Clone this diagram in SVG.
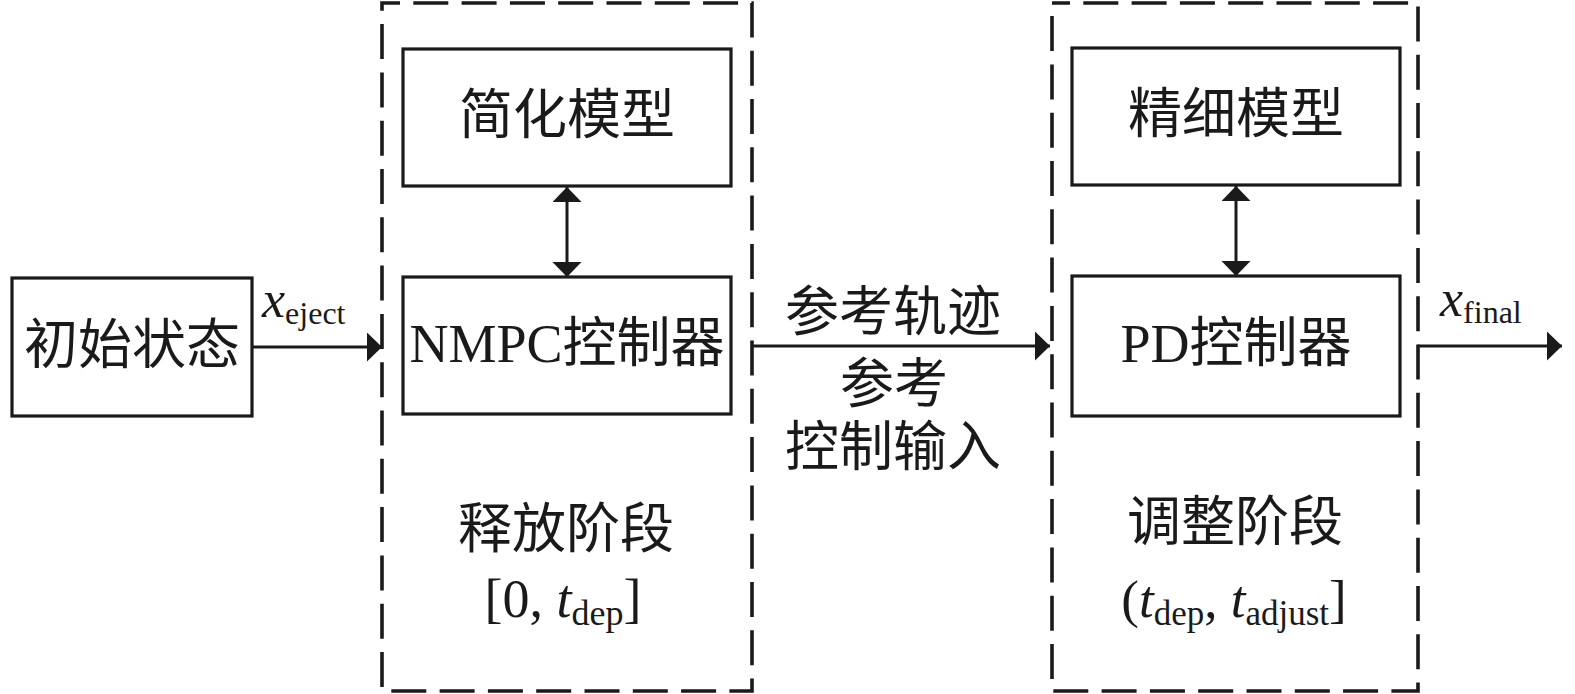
<svg xmlns="http://www.w3.org/2000/svg" width="1575" height="694" viewBox="0 0 1575 694">
<style>
.box{fill:#fff;stroke:#1a1a1a;stroke-width:3.2}
.dash{fill:none;stroke:#1a1a1a;stroke-width:3.6;stroke-dasharray:35 13.3;stroke-dashoffset:17}
.ln{fill:none;stroke:#1a1a1a;stroke-width:3}
.cn{font-family:"Liberation Serif","Noto Sans CJK SC",serif;font-size:54px;fill:#1a1a1a;text-anchor:middle}
.lt{font-family:"Liberation Serif","Noto Sans CJK SC",serif;fill:#1a1a1a}
.it{font-style:italic}
</style>
<defs>
<marker id="ah" markerUnits="userSpaceOnUse" markerWidth="16" markerHeight="30" refX="15" refY="14.5" orient="auto-start-reverse" viewBox="0 0 16 30">
<path d="M0,0 L15,14.5 L0,29 Z" fill="#1a1a1a"/>
</marker>
</defs>
<rect width="1575" height="694" fill="#fff"/>
<g id="stage1">
<rect class="dash" x="382" y="3" width="370" height="688"/>
<text class="cn" x="566" y="548">释放阶段</text>
<text class="lt" x="563" y="617" font-size="54" text-anchor="middle">[0, <tspan class="it">t</tspan><tspan font-size="36" dy="8">dep</tspan><tspan dy="-8">]</tspan></text>
</g>
<g id="stage2">
<rect class="dash" x="1052" y="3" width="366" height="688"/>
<text class="cn" x="1235" y="541">调整阶段</text>
<text class="lt" x="1234" y="617" font-size="53" text-anchor="middle">(<tspan class="it">t</tspan><tspan font-size="35" dy="8">dep</tspan><tspan dy="-8">, </tspan><tspan class="it">t</tspan><tspan font-size="35" dy="8">adjust</tspan><tspan dy="-8">]</tspan></text>
</g>
<g id="init">
<rect class="box" x="12" y="278" width="240" height="138"/>
<text class="cn" x="132" y="364">初始状态</text>
</g>
<g id="simple">
<rect class="box" x="403" y="49" width="328" height="137"/>
<text class="cn" x="567" y="134">简化模型</text>
</g>
<g id="nmpc">
<rect class="box" x="403" y="277" width="328" height="137"/>
<text class="cn" x="567" y="362">NMPC控制器</text>
</g>
<g id="fine">
<rect class="box" x="1072" y="48" width="328" height="137"/>
<text class="cn" x="1236" y="133">精细模型</text>
</g>
<g id="pd">
<rect class="box" x="1072" y="276" width="328" height="140"/>
<text class="cn" x="1236" y="362">PD控制器</text>
</g>
<g id="connectors">
<line class="ln" x1="252" y1="347" x2="382" y2="347" marker-end="url(#ah)"/>
<line class="ln" x1="567" y1="187" x2="567" y2="277" marker-start="url(#ah)" marker-end="url(#ah)"/>
<line class="ln" x1="752" y1="346" x2="1050" y2="346" marker-end="url(#ah)"/>
<line class="ln" x1="1236" y1="186" x2="1236" y2="276" marker-start="url(#ah)" marker-end="url(#ah)"/>
<line class="ln" x1="1418" y1="346" x2="1562" y2="346" marker-end="url(#ah)"/>
<text class="lt" x="262" y="317" font-size="52"><tspan class="it">x</tspan><tspan font-size="32" dy="7">eject</tspan></text>
<text class="lt" x="1440" y="316" font-size="52"><tspan class="it">x</tspan><tspan font-size="32" dy="7">final</tspan></text>
<text class="cn" x="893" y="331">参考轨迹</text>
<text class="cn" x="894" y="403">参考</text>
<text class="cn" x="893" y="466">控制输入</text>
</g>
</svg>
